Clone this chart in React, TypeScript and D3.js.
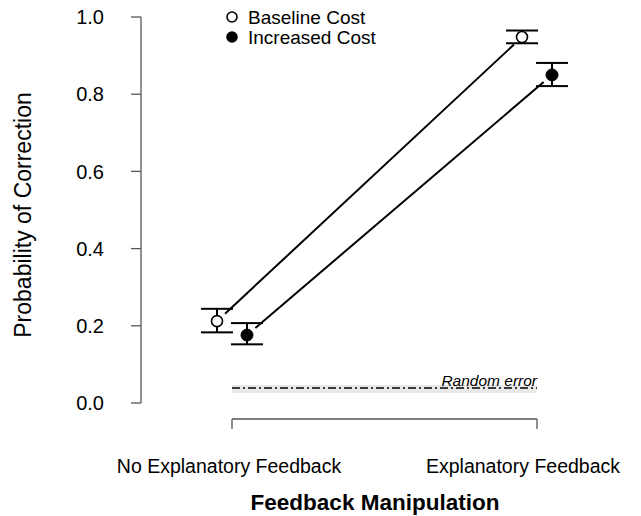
import React from 'react';
import * as d3 from 'd3';

const conditions = ['No Explanatory Feedback', 'Explanatory Feedback'];
const groups = ['Baseline Cost', 'Increased Cost'];
// estimates: [no feedback, explanatory feedback]
const baselineMean = [0.212, 0.948];
const baselineLo = [0.183, 0.932];
const baselineHi = [0.244, 0.965];
const increasedMean = [0.176, 0.850];
const increasedLo = [0.152, 0.821];
const increasedHi = [0.207, 0.881];
const randomError = 0.039;
const randomErrorBand = [0.026, 0.047];
const yTicks = [0, 0.2, 0.4, 0.6, 0.8, 1.0];

const width = 641;
const height = 516;
const font = 'Liberation Sans, Arial, sans-serif';

export default function App() {
  const x = d3.scalePoint<string>().domain(conditions).range([232, 537]);
  const y = d3.scaleLinear().domain([0, 1]).range([403, 17]);
  const dodge = 15;
  const gap = 11;
  const cap = 16;
  // label centres, the right one is pulled in to stay on the page
  const labelX = [229, 523];

  const series = [
    { name: groups[0], mean: baselineMean, lo: baselineLo, hi: baselineHi, off: -dodge, filled: false },
    { name: groups[1], mean: increasedMean, lo: increasedLo, hi: increasedHi, off: dodge, filled: true },
  ];

  return (
    <svg width={width} height={height} style={{ position: 'absolute', left: 0, top: 0 }} fontFamily={font}>
      {/* y axis */}
      <g>
        <line x1={141} x2={141} y1={y(0)} y2={y(1)} stroke="#555" strokeWidth={1.3} />
        {yTicks.map((t) => (
          <g key={t}>
            <line x1={131} x2={141} y1={y(t)} y2={y(t)} stroke="#555" strokeWidth={1.3} />
            <text x={104} y={y(t)} dy="0.36em" textAnchor="end" fontSize={20}>{t.toFixed(1)}</text>
          </g>
        ))}
        <text transform={`translate(31, 215) rotate(-90)`} textAnchor="middle" fontSize={23}>
          Probability of Correction
        </text>
      </g>

      {/* x axis bracket */}
      <g>
        <line x1={x(conditions[0])!} x2={x(conditions[1])!} y1={419} y2={419} stroke="#555" strokeWidth={1.3} />
        {conditions.map((c, i) => (
          <g key={c}>
            <line x1={x(c)!} x2={x(c)!} y1={419} y2={429} stroke="#555" strokeWidth={1.3} />
            <text x={labelX[i]} y={473} textAnchor="middle" fontSize={19.5}>{c}</text>
          </g>
        ))}
        <text x={375} y={510} textAnchor="middle" fontSize={22.5} fontWeight="bold">
          Feedback Manipulation
        </text>
      </g>

      {/* random error */}
      <rect x={x(conditions[0])!} width={x(conditions[1])! - x(conditions[0])!}
        y={y(randomErrorBand[1])} height={y(randomErrorBand[0]) - y(randomErrorBand[1])} fill="#e8e8e8" />
      <line x1={x(conditions[0])!} x2={x(conditions[1])!} y1={y(randomError)} y2={y(randomError)}
        stroke="#000" strokeWidth={1.5} strokeDasharray="8,3,2,3" />
      <text x={x(conditions[1])!} y={y(randomError) - 2} textAnchor="end" fontSize={15.5} fontStyle="italic">Random error</text>

      {/* series */}
      {series.map((s) => {
        const px = conditions.map((c) => x(c)! + s.off);
        const py = s.mean.map((m) => y(m));
        const dx = px[1] - px[0];
        const dy = py[1] - py[0];
        const len = Math.hypot(dx, dy);
        const ux = dx / len;
        const uy = dy / len;
        return (
          <g key={s.name}>
            <line x1={px[0] + ux * gap} y1={py[0] + uy * gap} x2={px[1] - ux * gap} y2={py[1] - uy * gap}
              stroke="#000" strokeWidth={2} />
            {conditions.map((c, i) => (
              <g key={c}>
                <line x1={px[i]} x2={px[i]} y1={y(s.lo[i])} y2={y(s.hi[i])} stroke="#000" strokeWidth={2} />
                <line x1={px[i] - cap} x2={px[i] + cap} y1={y(s.lo[i])} y2={y(s.lo[i])} stroke="#000" strokeWidth={2} />
                <line x1={px[i] - cap} x2={px[i] + cap} y1={y(s.hi[i])} y2={y(s.hi[i])} stroke="#000" strokeWidth={2} />
                <circle cx={px[i]} cy={py[i]} r={s.filled ? 6 : 5.5}
                  fill={s.filled ? '#000' : '#fff'} stroke="#000" strokeWidth={s.filled ? 1 : 1.6} />
              </g>
            ))}
          </g>
        );
      })}

      {/* legend */}
      {series.map((s, i) => (
        <g key={s.name} transform={`translate(232, ${17 + i * 20})`}>
          <circle r={5} fill={s.filled ? '#000' : '#fff'} stroke="#000" strokeWidth={1.6} />
          <text x={16} dy="0.36em" fontSize={19}>{s.name}</text>
        </g>
      ))}
    </svg>
  );
}
